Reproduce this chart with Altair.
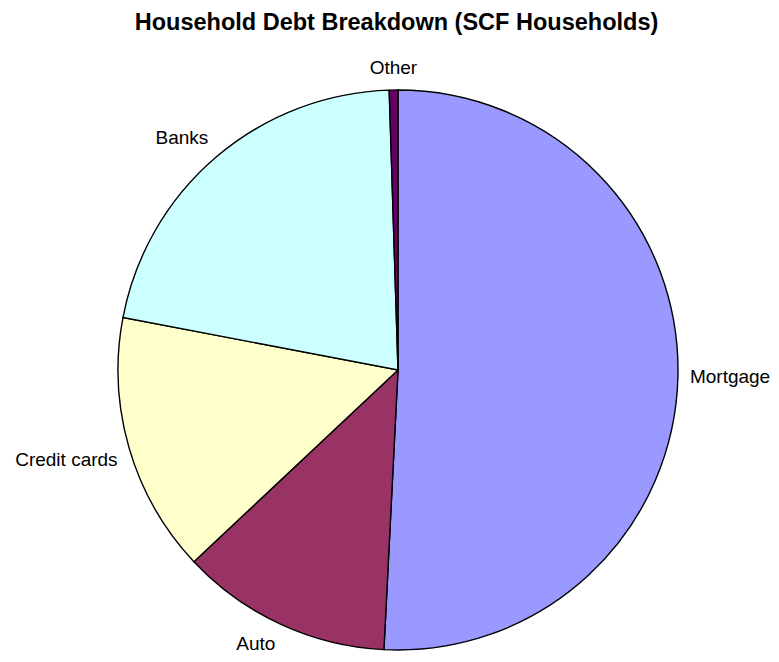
import altair as alt
import pandas as pd

categories = ["Mortgage", "Auto", "Credit cards", "Banks", "Other"]
values = [50.8, 12.2, 15.0, 21.5, 0.5]
colors = ["#9999FF", "#993366", "#FFFFCC", "#CCFFFF", "#660066"]

df = pd.DataFrame({"category": categories, "value": values, "order": list(range(len(categories)))})

FONT = "Liberation Sans"

base = alt.Chart(df).encode(
    theta=alt.Theta("value:Q", stack=True),
    order=alt.Order("order:Q"),
    x=alt.value(390),
    y=alt.value(322),
)

pie = base.mark_arc(outerRadius=280, stroke="black", strokeWidth=1.4).encode(
    color=alt.Color(
        "category:N",
        scale=alt.Scale(domain=categories, range=colors),
        legend=None,
    )
)

labels = base.transform_joinaggregate(total="sum(value)").transform_window(
    cum="sum(value)", sort=[alt.SortField("order")], frame=[None, 0]
).transform_calculate(
    mid="2*PI*(datum.cum - datum.value/2)/datum.total",
).transform_calculate(
    ha="sin(datum.mid) > 0.2 ? 'left' : (sin(datum.mid) < -0.2 ? 'right' : 'center')",
    va="cos(datum.mid) > 0.2 ? 'bottom' : (cos(datum.mid) < -0.2 ? 'top' : 'middle')",
).mark_text(
    radius=292,
    font=FONT,
    fontSize=19,
    color="black",
    align=alt.expr("datum.ha"),
    baseline=alt.expr("datum.va"),
).encode(text="category:N")

chart = alt.layer(pie, labels).properties(
    width=763,
    height=606,
    padding={"left": 0, "top": 40, "right": 0, "bottom": 0},
    autosize="none",
    title=alt.Title(
        "Household Debt Breakdown (SCF Households)",
        font=FONT,
        fontSize=23.5,
        fontWeight="bold",
        color="black",
        anchor="middle",
        frame="group",
        baseline="alphabetic",
        offset=19,
        dx=7,
        dy=24,
    ),
).configure_view(stroke=None)

chart.save("out.html", embed_options={"renderer": "svg", "actions": False})
